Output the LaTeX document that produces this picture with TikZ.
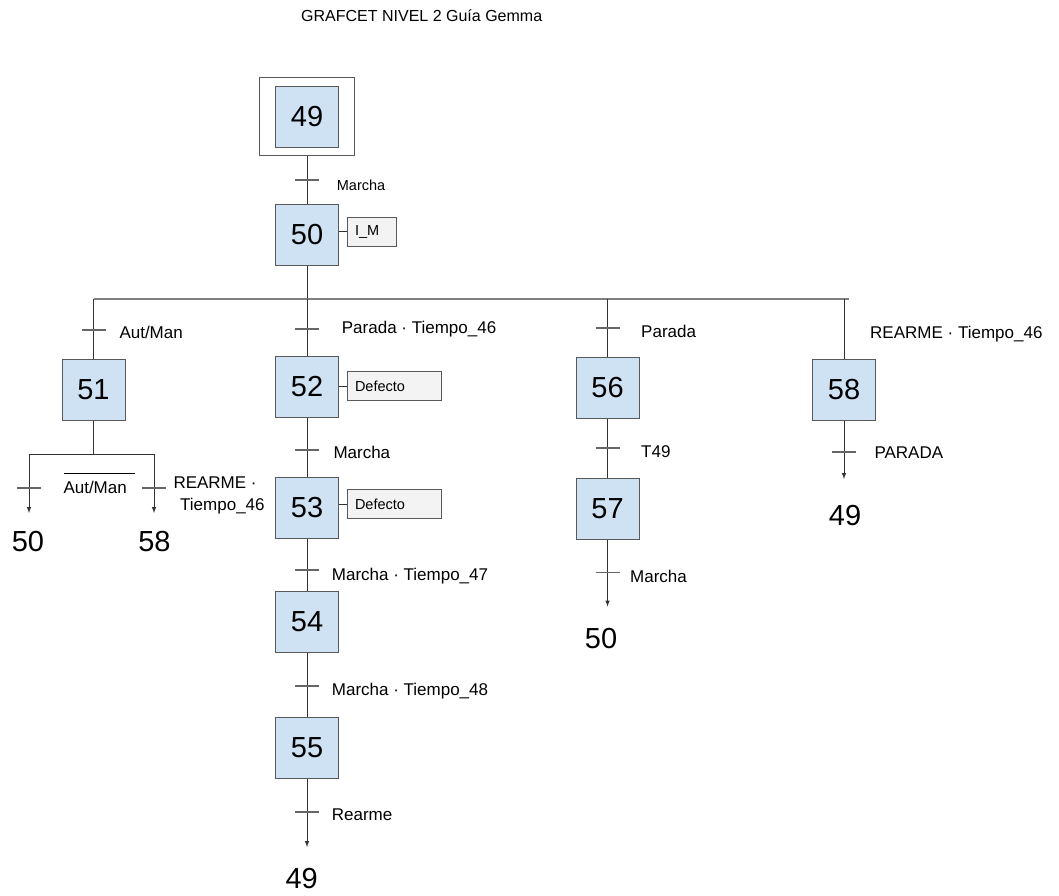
\documentclass[tikz,border=0pt]{standalone}
\usepackage{fontspec}
\setmainfont{Liberation Sans}
\usetikzlibrary{positioning,calc}

\definecolor{pasofill}{HTML}{CFE2F3}
\definecolor{accfill}{HTML}{F3F3F3}
\definecolor{borde}{HTML}{595959}
\definecolor{linea}{HTML}{333333}
\definecolor{gris}{HTML}{808080}
\definecolor{grisosc}{HTML}{666666}

\begin{document}
\begin{tikzpicture}[
        x=1pt, y=-1pt,
        every node/.style={inner sep=0pt},
        paso/.style={draw=borde, fill=pasofill, line width=1pt, minimum width=63pt, minimum height=61pt, font=\fontsize{29}{32}\selectfont},
        inicial/.style={draw=borde, line width=1pt, minimum width=95pt, minimum height=78pt},
        accion/.style={draw=borde, fill=accfill, line width=1pt, minimum height=29pt, inner xsep=8pt, align=left, font=\fontsize{14.5}{16}\selectfont},
        cond/.style={anchor=base west, font=\fontsize{17}{22}\selectfont},
        salto/.style={anchor=base, font=\fontsize{29}{32}\selectfont},
        enlace/.style={draw=linea, line width=1pt},
        flecha/.style={enlace, ->, >=latex},
        div/.style={draw=gris, line width=1.6pt},
        recep/.style={draw=grisosc, line width=1.2pt}
    ]
    \useasboundingbox (0,0) rectangle (1059,895);

    % Titulo
    \node[anchor=base west, font=\fontsize{16}{18}\selectfont] (titulo) at (301,21) {GRAFCET NIVEL 2 Guía Gemma};

    % Etapas
    \node[inicial] (e49ext) at (307,116) {};
    \node[paso] (s49) at (307,116.5) {49};
    \node[paso] (s50) at (307,235) {50};
    \node[paso] (s51) at (93.5,390) {51};
    \node[paso] (s52) at (307,386.5) {52};
    \node[paso] (s53) at (307,508) {53};
    \node[paso] (s54) at (307,622) {54};
    \node[paso] (s55) at (307,748) {55};
    \node[paso] (s56) at (607.5,388) {56};
    \node[paso] (s57) at (607.5,508.5) {57};
    \node[paso] (s58) at (844,389.5) {58};

    % Acciones
    \node[accion, text width=33pt] (a50) at (371.5,231.5) {I\_M};
    \node[accion, text width=78pt] (a52) at (394,386) {Defecto};
    \node[accion, text width=78pt] (a53) at (394,504) {Defecto};

    % Divergencias, saltos y transiciones
    \coordinate (d50) at (307,299);
    \coordinate (dl) at (93.5,299);
    \coordinate (dr) at (849,299);
    \coordinate (d56) at (607.5,299);
    \coordinate (d58) at (844,299);
    \coordinate (b51) at (93.5,454);
    \coordinate (bl) at (29,454);
    \coordinate (br) at (154,454);
    \coordinate (fl) at (29,513);
    \coordinate (fr) at (154,513);
    \coordinate (f55) at (307,847);
    \coordinate (f57) at (607.5,606.5);
    \coordinate (f58) at (844,479);

    \coordinate (t1) at (307,180);
    \coordinate (t2) at (93.5,330);
    \coordinate (t3) at (307,329);
    \coordinate (t4) at (607.5,328);
    \coordinate (t6) at (307,450);
    \coordinate (t7) at (607.5,448);
    \coordinate (t8) at (844,452);
    \coordinate (t9) at (29,488);
    \coordinate (t10) at (154,488);
    \coordinate (t11) at (307,570);
    \coordinate (t12) at (607.5,572.5);
    \coordinate (t13) at (307,686);
    \coordinate (t14) at (307,812);

    % Enlaces
    \draw[enlace] (e49ext) -- (s50);
    \draw[enlace] (s50) -- (d50);
    \draw[div] (dl) -- (dr);
    \draw[enlace] (dl) -- (s51);
    \draw[enlace] (d50) -- (s52);
    \draw[enlace] (d56) -- (s56);
    \draw[enlace] (d58) -- (s58);
    \draw[enlace] (s52) -- (s53);
    \draw[enlace] (s53) -- (s54);
    \draw[enlace] (s54) -- (s55);
    \draw[enlace] (s56) -- (s57);
    \draw[enlace] (s51) -- (b51);
    \draw[enlace] (bl) -- (br);
    \draw[flecha] (bl) -- (fl);
    \draw[flecha] (br) -- (fr);
    \draw[flecha] (s55) -- (f55);
    \draw[flecha] (s57) -- (f57);
    \draw[flecha] (s58) -- (f58);

    \draw[enlace] (a50.west) -- (a50.west -| s50.east);
    \draw[enlace] (a52.west) -- (a52.west -| s52.east);
    \draw[enlace] (a53.west) -- (a53.west -| s53.east);

    % Receptividades
    \foreach \t in {t1,t2,t3,t4,t6,t7,t8,t9,t10,t11,t12,t13,t14}
        \draw[recep] ([xshift=-12pt]\t) -- ([xshift=12pt]\t);

    \node[cond, font=\fontsize{14.5}{16}\selectfont] (c1) at (336.7,190) {Marcha};
    \node[cond] (c2) at (119.3,338) {Aut/Man};
    \node[cond] (c3) at (341.7,333) {Parada · Tiempo\_46};
    \node[cond] (c4) at (641,337) {Parada};
    \node[cond] (c5) at (870,338) {REARME · Tiempo\_46};
    \node[cond] (c6) at (333.3,458) {Marcha};
    \node[cond] (c7) at (641,457) {T49};
    \node[cond] (c8) at (874.3,458) {PARADA};
    \node[cond] (c9) at (63.3,493.5) {$\overline{\rule{0pt}{19pt}\mbox{Aut/Man\hspace{8pt}}}$};
    \node[cond, align=left] (c10) at (173.3,510) {REARME ·\\\hspace*{6.7pt}Tiempo\_46};
    \node[cond] (c11) at (331.7,580) {Marcha · Tiempo\_47};
    \node[cond] (c12) at (630,582) {Marcha};
    \node[cond] (c13) at (331.7,695) {Marcha · Tiempo\_48};
    \node[cond] (c14) at (331.7,820) {Rearme};

    % Destinos de salto
    \node[salto] (j51a) at (28,551.7) {50};
    \node[salto] (j51b) at (154.5,551.7) {58};
    \node[salto] (j55) at (301.7,888) {49};
    \node[salto] (j57) at (601,648) {50};
    \node[salto] (j58) at (845,525) {49};

\end{tikzpicture}
\end{document}
